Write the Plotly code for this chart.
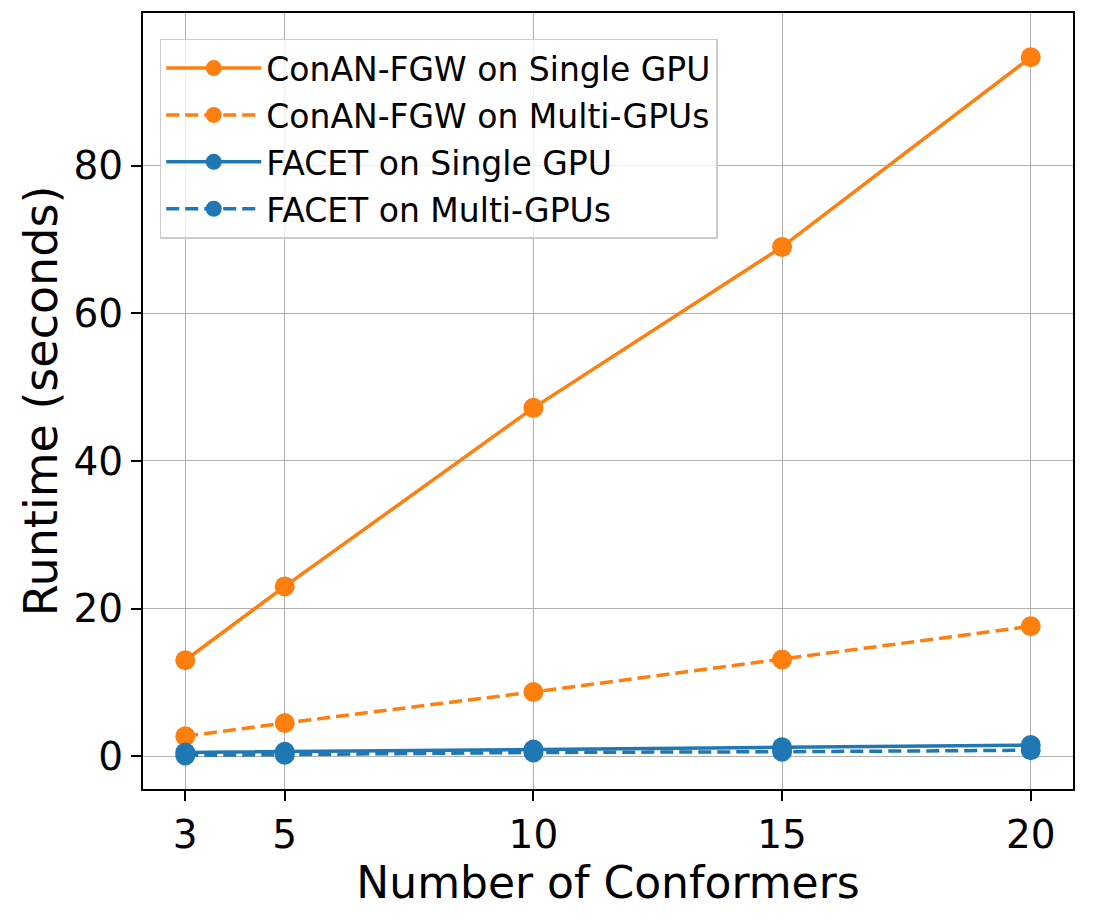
import plotly.graph_objects as go

conformers = [3, 5, 10, 15, 20]
conan_single = [13.0, 23.0, 47.2, 69.0, 94.7]
conan_multi = [2.7, 4.5, 8.7, 13.1, 17.6]
facet_single = [0.5, 0.6, 0.9, 1.2, 1.5]
facet_multi = [0.1, 0.2, 0.5, 0.6, 0.8]

x_ticks = [3, 5, 10, 15, 20]
y_ticks = [0, 20, 40, 60, 80]

ORANGE = "#ff7f0e"
BLUE = "#1f77b4"
FONT = "DejaVu Sans"

series = [
    ("ConAN-FGW on Single GPU", conan_single, ORANGE, "solid"),
    ("ConAN-FGW on Multi-GPUs", conan_multi, ORANGE, "13px,6px"),
    ("FACET on Single GPU", facet_single, BLUE, "solid"),
    ("FACET on Multi-GPUs", facet_multi, BLUE, "13px,6px"),
]

fig = go.Figure()
for i, (name, vals, color, dash) in enumerate(series):
    fig.add_trace(go.Scatter(
        x=conformers, y=vals, name=name, mode="lines+markers",
        legendgroup=f"g{i}",
        line=dict(color=color, width=3.5, dash=dash),
        marker=dict(color=color, size=20, line=dict(width=0)),
    ))

axis_common = dict(
    showline=True, linecolor="black", linewidth=2, mirror=True,
    showgrid=True, gridcolor="#b0b0b0", gridwidth=1.2,
    ticks="outside", ticklen=10, tickwidth=2, tickcolor="black",
    tickfont=dict(family=FONT, size=39, color="black"),
    zeroline=False,
)

fig.update_layout(
    width=1093, height=921,
    margin=dict(l=143, r=20, t=11, b=132),
    paper_bgcolor="white", plot_bgcolor="white",
    font=dict(family=FONT, color="black"),
    xaxis=dict(
        range=[2.15, 20.85], tickvals=x_ticks, ticktext=[str(v) for v in x_ticks],
        title=dict(text="Number of Conformers", font=dict(family=FONT, size=44), standoff=0),
        **axis_common,
    ),
    yaxis=dict(
        range=[-4.45, 100.7], tickvals=y_ticks, ticktext=[str(v) for v in y_ticks],
        title=dict(text="Runtime (seconds)", font=dict(family=FONT, size=46), standoff=1),
        **axis_common,
    ),
    legend=dict(
        x=0.018, y=0.967, xanchor="left", yanchor="top",
        bgcolor="rgba(255,255,255,0.8)", bordercolor="#cccccc", borderwidth=1.5,
        font=dict(family=FONT, size=33, color="black"),
        itemwidth=95, tracegroupgap=1,
    ),
    showlegend=True,
)

fig.write_html("out.html")
